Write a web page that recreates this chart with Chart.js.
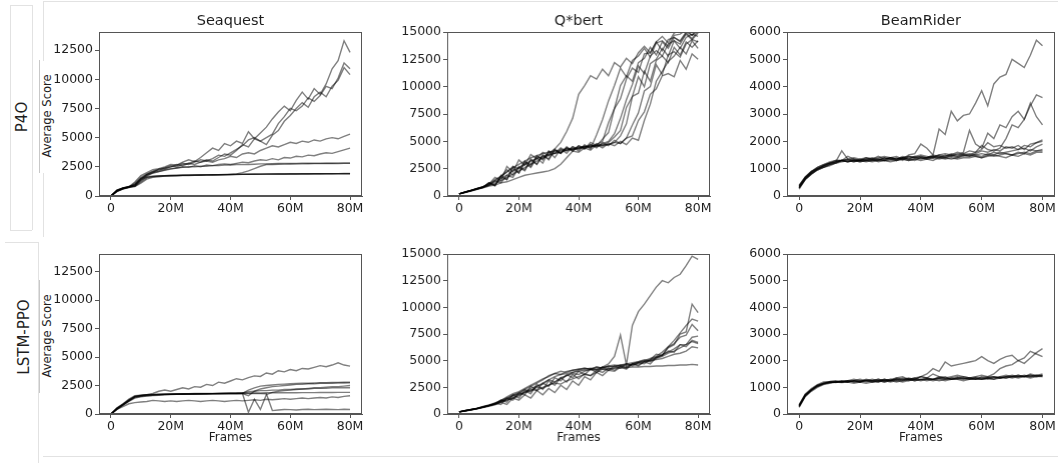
<!DOCTYPE html>
<html><head><meta charset="utf-8">
<script src="https://cdn.jsdelivr.net/npm/chart.js@4.4.1/dist/chart.umd.min.js"></script>
<style>
body{margin:0;width:1058px;height:463px;background:#fff;position:relative;overflow:hidden;font-family:"DejaVu Sans",sans-serif;}
canvas{position:absolute;}
.lbl{position:absolute;color:#1e1e1e;white-space:nowrap;transform:translate(-50%,-50%) rotate(-90deg);font-family:"DejaVu Sans",sans-serif;}
.deco{position:absolute;background:#e2e2e2;}
</style></head><body>
<div class="deco" style="left:10px;top:5px;width:1px;height:225px"></div>
<div class="deco" style="left:32px;top:5px;width:1px;height:225px"></div>
<div class="deco" style="left:10px;top:5px;width:22px;height:1px"></div>
<div class="deco" style="left:10px;top:230px;width:22px;height:1px"></div>
<div class="deco" style="left:43px;top:1px;width:1015px;height:1px"></div>
<div class="deco" style="left:43px;top:1px;width:1px;height:60px"></div>
<div class="deco" style="left:39px;top:60px;width:1px;height:113px;background:#c8c8c8"></div>
<div class="deco" style="left:43px;top:173px;width:1px;height:64px"></div>
<div class="deco" style="left:5px;top:242px;width:33px;height:1px"></div>
<div class="deco" style="left:38px;top:242px;width:1px;height:221px"></div>
<div class="deco" style="left:39px;top:280px;width:1px;height:113px;background:#c8c8c8"></div>
<div class="deco" style="left:43px;top:456px;width:1015px;height:1px"></div>

<div class="lbl" style="left:22px;top:117px;font-size:15px">P4O</div>
<div class="lbl" style="left:24px;top:337px;font-size:15px">LSTM-PPO</div>
<div class="lbl" style="left:47px;top:116px;font-size:11.5px">Average Score</div>
<div class="lbl" style="left:47px;top:336px;font-size:11.5px">Average Score</div>

<canvas id="c1"></canvas><canvas id="c2"></canvas><canvas id="c3"></canvas>
<canvas id="c4"></canvas><canvas id="c5"></canvas><canvas id="c6"></canvas>
<script>
// frames in millions
const frames = [0,2,4,6,8,10,12,14,16,18,20,22,24,26,28,30,32,34,36,38,40,42,44,46,48,50,52,54,56,58,60,62,64,66,68,70,72,74,76,78,80];
const xTickValues = [0,20,40,60,80];
const gameTitles = ['Seaquest','Q*bert','BeamRider'];
const seaquestTicks = [0,2500,5000,7500,10000,12500];
const qbertTicks = [0,2500,5000,7500,10000,12500,15000];
const beamTicks = [0,1000,2000,3000,4000,5000,6000];

const seaquestP4O = [
[0,450,650,780,1200,1750,2000,2250,2350,2500,2700,2650,2900,3100,2950,3300,3700,4100,3900,4500,4300,4700,4500,5500,4900,5400,5900,6600,7200,7700,7300,8200,8900,8300,9200,8700,9600,10900,11600,13300,12300],
[0,480,680,800,1000,1500,1850,2100,2200,2400,2500,2700,2600,2800,3000,2900,3100,3000,3300,3600,3500,3900,4400,4200,4900,4700,5000,5300,6200,6800,7500,7300,7700,8400,8100,8600,9400,9200,10100,11400,10900],
[0,500,700,820,900,1400,1800,2000,2300,2300,2500,2600,2800,2700,2900,3100,3000,3200,3500,3400,3700,4000,4300,4800,5000,4700,4400,5200,5600,6400,6900,7500,8000,7600,8500,8900,8500,9400,9900,11000,10400],
[0,450,650,750,1100,1600,1900,2100,2300,2400,2600,2500,2700,2800,2700,2900,3000,2900,3100,3200,3400,3300,3600,3700,3600,3900,4100,4300,4200,4400,4600,4500,4700,4600,4800,4700,4900,5000,4900,5100,5300],
[0,420,620,760,850,1300,1700,1950,2100,2200,2300,2400,2500,2450,2600,2500,2650,2600,2700,2750,2700,2800,2900,2850,3000,3100,3050,3200,3100,3300,3250,3400,3350,3500,3450,3600,3700,3650,3800,3950,4100],
[0,460,680,780,950,1450,1800,2000,2100,2250,2350,2400,2450,2500,2500,2550,2550,2600,2600,2650,2650,2700,2700,2700,2720,2750,2750,2760,2780,2780,2790,2790,2800,2800,2800,2800,2810,2810,2820,2820,2820],
[0,400,600,720,800,1100,1450,1600,1650,1700,1720,1740,1750,1760,1770,1780,1790,1800,1800,1810,1850,1900,2000,2150,2350,2550,2700,2700,2720,2730,2740,2750,2750,2760,2770,2770,2780,2790,2790,2800,2800],
[0,500,700,800,820,1200,1550,1650,1700,1720,1740,1760,1770,1780,1790,1800,1810,1810,1820,1830,1830,1840,1850,1850,1860,1860,1870,1870,1880,1880,1880,1890,1890,1890,1900,1900,1900,1910,1910,1910,1910],
[0,430,640,740,880,1350,1600,1680,1710,1730,1750,1760,1780,1790,1800,1800,1810,1820,1830,1830,1840,1850,1850,1860,1860,1870,1870,1880,1880,1890,1890,1890,1900,1900,1900,1910,1910,1910,1920,1920,1920],
[0,380,620,760,1000,1500,1650,1700,1720,1740,1760,1770,1780,1790,1800,1810,1820,1820,1830,1840,1840,1850,1860,1860,1870,1870,1880,1880,1890,1890,1900,1900,1900,1910,1910,1910,1920,1920,1920,1930,1930]
];

const qbertP4O = [
[200,380,520,700,850,1100,1500,1800,2200,2700,2500,3100,2900,3600,3400,3900,4300,4900,5900,7100,9300,10100,11000,10700,11600,11000,12200,11800,12600,12100,13100,13700,13100,14100,14600,14000,14900,15200,15100,15300,15200],
[200,350,500,650,800,1200,900,1900,1500,2700,2100,3000,2600,3500,3000,4100,3500,4300,3900,4500,4100,4700,4300,5600,7000,8700,10100,11700,10900,12400,12800,13500,12700,14000,14200,13700,14700,14800,15200,14700,15300],
[200,360,520,680,850,1000,1300,1600,1900,2300,2600,2900,3200,3400,3600,3800,3900,4100,4200,4300,4400,4500,4500,4700,5000,6700,8000,10100,11000,10500,12200,12600,13600,12900,14100,13500,14500,14100,14900,14400,15100],
[200,340,480,640,820,1000,1400,1200,1900,1700,2600,2300,3300,2900,3700,3400,4200,3900,4400,4100,4500,4300,4700,4500,4800,5000,5700,7100,8800,10200,11900,11200,12800,13300,12800,13900,14200,13900,14800,14300,14900],
[200,370,510,660,780,950,1150,1400,1700,2000,2300,2600,2900,3200,3500,3700,3900,4000,4200,4300,4300,4500,4500,4600,4600,4700,4900,5500,6600,9100,9400,11400,10500,12400,12800,12200,13600,12900,14100,13600,14200],
[200,330,490,620,790,1050,1400,1800,2200,2600,2900,3200,3500,3700,3900,4000,4100,4200,4300,4300,4400,4500,4600,4600,4700,4700,4900,4800,5300,6500,7600,9600,10000,12000,11100,12900,13200,12700,13900,14300,14100],
[200,360,500,670,810,1200,1000,1800,2400,1900,2700,2400,3400,2900,3800,3300,4200,3900,4500,4100,4600,4400,4700,4400,4900,4600,5100,4800,5300,5500,6900,7700,9300,9800,11000,11200,10900,12400,11600,13000,12500],
[200,320,460,600,740,900,1000,1200,1300,1500,1700,1900,2000,2100,2200,2300,2500,2900,3500,4100,4000,4400,4200,4700,4400,4800,4600,5000,4700,5300,5100,6900,8400,10500,11400,12300,12800,13600,13000,14200,13500],
[200,350,500,700,830,1100,1700,1400,2700,2200,3300,2800,3800,3400,4000,3700,4300,3900,4400,4200,4600,4300,4900,4600,5200,5800,8000,8900,10700,11700,11300,13000,13100,14100,13300,14300,14500,14200,15000,14700,15200],
[200,340,520,660,800,1200,1000,1700,1500,2500,2100,3200,2700,3700,3300,4100,3900,4400,4100,4500,4300,4600,4400,4800,4600,4900,5400,6000,8100,9100,10900,10000,12100,12500,13500,12800,14200,13500,14500,14800,14600]
];

const beamP4O = [
[300,600,800,950,1050,1150,1250,1300,1450,1350,1300,1400,1350,1450,1350,1400,1450,1350,1500,1550,1900,1750,1500,2450,2250,3100,2750,2950,3000,3400,3850,3300,4100,4350,4450,5000,4850,4700,5150,5700,5500],
[350,650,850,1000,1050,1100,1200,1250,1300,1250,1350,1300,1300,1350,1400,1350,1300,1400,1350,1450,1400,1400,1450,1500,1450,1550,1500,1600,2400,1900,1750,2300,2100,2600,2500,2900,3100,2800,3300,3700,3600],
[300,620,820,980,1100,1150,1200,1300,1250,1300,1300,1350,1300,1300,1350,1400,1350,1400,1350,1400,1450,1400,1500,1450,1400,1500,1450,1550,1500,1600,1850,1700,1650,1750,2100,2600,2500,2800,3400,2900,2600],
[400,700,900,1000,1100,1200,1250,1300,1350,1300,1250,1300,1350,1300,1400,1350,1400,1300,1450,1400,1350,1400,1450,1400,1500,1450,1550,1500,1450,1550,1650,1600,1700,1650,1800,1750,1850,1700,1900,1950,2000],
[350,680,880,1050,1150,1200,1250,1300,1300,1250,1300,1250,1300,1350,1300,1300,1350,1400,1350,1300,1400,1350,1400,1350,1400,1450,1400,1500,1450,1500,1550,1500,1600,1550,1600,1650,1700,1750,1650,1800,1900],
[250,600,800,950,1050,1150,1200,1300,1250,1300,1300,1300,1250,1300,1300,1250,1300,1350,1300,1350,1300,1350,1300,1400,1350,1400,1350,1400,1400,1450,1400,1450,1500,1450,1400,1500,1450,1550,1500,1600,1600],
[300,650,870,1000,1100,1200,1300,1300,1350,1400,1350,1400,1350,1400,1450,1400,1350,1400,1450,1400,1450,1400,1450,1400,1450,1500,1450,1500,1550,1500,1450,1550,1500,1600,1550,1500,1600,1550,1700,1650,1700],
[320,640,840,970,1100,1200,1250,1650,1350,1300,1250,1300,1350,1250,1300,1350,1300,1350,1300,1350,1400,1350,1400,1450,1400,1350,1400,1450,1500,1450,1400,1500,1450,1500,1550,1500,1550,1600,1550,1650,1650],
[380,700,900,1050,1150,1250,1300,1300,1250,1350,1300,1350,1400,1350,1300,1400,1350,1450,1400,1450,1500,1450,1400,1500,1550,1500,1600,1550,1650,1600,1700,1950,1800,1850,1750,1800,1700,1850,1800,1950,2050]
];

const seaquestLSTM = [
[0,500,800,1200,1500,1600,1700,1800,2000,2100,2000,2150,2300,2200,2400,2350,2600,2500,2800,2700,2900,3100,3000,3200,3350,3300,3600,3500,3800,3700,3900,3800,4000,3950,4100,4250,4150,4300,4500,4300,4200],
[0,550,900,1300,1600,1650,1700,1720,1740,1750,1760,1770,1780,1790,1800,1800,1810,1810,1820,1820,1830,1830,1840,1840,1850,1850,1860,1860,1860,1870,1870,1870,1880,1880,1880,1890,1890,1890,1900,1900,1900],
[0,450,850,1250,1550,1650,1680,1700,1720,1730,1740,1750,1760,1770,1770,1780,1780,1790,1790,1800,1800,1800,1810,2100,2300,2450,2500,2550,2600,2620,2650,2680,2700,2700,2720,2740,2750,2760,2780,2790,2800],
[0,400,800,1150,1500,1600,1680,1700,1710,1720,1740,1750,1760,1760,1770,1780,1780,1790,1790,1800,1800,1810,1800,150,1300,400,1700,1900,2000,2050,2100,2150,2200,2250,2300,2300,2350,2400,2400,2450,2500],
[0,500,850,1200,1550,1600,1650,1680,1700,1720,1730,1740,1750,1760,1760,1770,1780,1780,1790,1790,1800,1800,1800,1790,1800,1790,1780,300,350,400,380,350,400,420,380,400,420,400,380,420,400],
[0,400,650,900,1000,1050,1100,1200,1150,1100,1150,1100,1150,1200,1150,1100,1150,1200,1150,1100,1150,1200,1150,1200,1250,1200,1300,1250,1300,1350,1300,1350,1400,1350,1400,1450,1400,1500,1450,1550,1600],
[0,480,820,1150,1450,1550,1600,1650,1680,1700,1720,1730,1740,1750,1760,1770,1780,1790,1800,1800,1810,1820,1850,1950,2000,2050,2050,2100,2100,2150,2150,2200,2200,2200,2250,2250,2250,2300,2300,2300,2300],
[0,420,760,1100,1400,1500,1580,1620,1650,1680,1700,1720,1730,1740,1750,1760,1770,1780,1780,1790,1800,1800,1800,1600,2000,2200,2300,2400,2450,2500,2550,2600,2600,2650,2650,2700,2700,2700,2720,2720,2750]
];

const qbertLSTM = [
[200,320,420,520,680,820,1000,1300,1500,1800,1900,2300,2100,2600,2800,3200,3000,3400,3600,3800,3700,4000,4200,4100,4400,4700,5400,7400,4600,8300,9600,10300,11100,11900,12500,12300,12800,13100,13900,14800,14500],
[200,300,400,500,650,780,950,1300,1100,1800,1500,2200,1900,2800,2300,3100,2700,3400,3000,3700,3300,3800,3600,4100,3900,4300,4100,4500,4300,4700,4600,4900,4700,5300,5500,6200,6500,7500,7700,10300,9500],
[200,310,410,540,660,800,900,1200,1300,1500,1800,2000,2300,2200,2500,2700,2900,2800,3100,3300,3500,3700,3600,3900,4200,4100,4300,4500,4400,4700,4900,5000,5200,5400,5800,6300,6900,7600,8300,8900,8700],
[200,290,390,500,620,760,1000,900,1500,1300,2000,1800,2600,2200,2900,2600,3400,3100,3700,3400,4000,3700,4200,3900,4400,4100,4500,4300,4700,4500,4800,4700,5100,5300,5500,5900,5800,6500,6500,7200,7300],
[200,330,430,530,700,850,1050,1250,1600,1900,2100,2400,2700,3000,3300,3500,3800,3700,4000,4100,4200,4300,4200,4400,4300,4500,4400,4600,4700,4600,4800,4900,5000,5100,5200,5400,5600,5700,5900,6300,6200],
[200,310,420,520,660,800,980,1200,1450,1750,2000,2300,2600,2900,3200,3600,3800,4000,3900,4100,4200,4300,4200,4400,4300,4500,4600,4500,4700,4800,4900,5100,5000,5300,5600,5800,6100,6500,6300,6900,6700],
[200,300,400,510,640,780,940,1150,1400,1650,1850,2100,2400,2600,2900,3200,3500,3700,3800,3900,4000,4100,4150,4200,4200,4250,4300,4300,4350,4400,4400,4450,4450,4500,4500,4550,4550,4600,4600,4650,4600],
[200,280,380,480,600,720,850,1100,900,1500,1300,1800,1500,2200,1800,2400,2000,2700,2300,3100,2700,3500,3200,3900,3600,4100,4000,4400,4200,4700,4500,4900,5100,5600,5500,6300,6600,7200,7400,8400,7800],
[200,300,410,520,650,790,930,1100,1300,1500,1700,2000,2200,2500,2400,2700,3000,3300,3600,3900,4100,4200,4300,4200,4400,4400,4500,4600,4500,4700,4800,5000,4900,5200,5400,5700,5900,6200,6500,6800,6600]
];

const beamLSTM = [
[280,680,880,1050,1150,1200,1180,1220,1200,1250,1300,1250,1200,1250,1300,1250,1300,1350,1300,1350,1400,1500,1700,1600,1950,1800,1850,1900,1950,2000,2150,2000,1900,2050,2150,2200,2000,2100,2350,2250,2150],
[320,720,900,1080,1150,1180,1200,1220,1200,1250,1200,1300,1250,1300,1250,1300,1350,1300,1350,1300,1400,1350,1500,1400,1350,1400,1450,1400,1350,1400,1450,1400,1500,1700,1800,1850,2000,1900,2100,2300,2450],
[300,700,920,1050,1150,1180,1200,1200,1250,1200,1200,1250,1200,1250,1200,1250,1300,1250,1300,1250,1300,1300,1250,1300,1250,1300,1300,1350,1300,1300,1350,1300,1350,1400,1350,1400,1350,1400,1450,1400,1450],
[250,650,850,1000,1100,1150,1200,1180,1200,1150,1200,1150,1200,1200,1250,1200,1250,1200,1250,1300,1250,1300,1300,1250,1300,1350,1300,1250,1300,1350,1300,1350,1300,1350,1400,1350,1400,1400,1350,1400,1400],
[350,750,950,1100,1200,1220,1250,1200,1250,1300,1250,1200,1250,1300,1250,1300,1250,1300,1250,1300,1400,1350,1300,1350,1300,1350,1400,1350,1300,1350,1300,1350,1400,1350,1400,1450,1400,1450,1400,1450,1500],
[300,680,900,1050,1120,1180,1200,1250,1200,1250,1200,1250,1250,1200,1300,1250,1200,1250,1300,1350,1300,1250,1300,1350,1400,1300,1350,1300,1350,1300,1300,1350,1400,1350,1350,1400,1450,1400,1400,1450,1400],
[280,700,880,1030,1130,1190,1200,1230,1250,1200,1250,1250,1300,1250,1200,1250,1350,1400,1300,1250,1300,1350,1300,1400,1350,1300,1350,1400,1350,1300,1400,1350,1300,1400,1450,1400,1450,1400,1500,1450,1450],
[330,720,920,1070,1160,1210,1220,1200,1230,1250,1220,1280,1250,1230,1280,1250,1300,1280,1320,1300,1280,1320,1300,1350,1320,1300,1350,1320,1350,1380,1350,1400,1380,1350,1400,1420,1400,1430,1450,1420,1450]
];

const FONT = '"DejaVu Sans", sans-serif';
const TXT = '#1e1e1e';
const AX = '#555555';

const framePlugin = {
  id: 'frameBox',
  afterDraw(c) {
    const a = c.chartArea, ctx = c.ctx;
    ctx.save();
    ctx.strokeStyle = AX; ctx.lineWidth = 1;
    ctx.strokeRect(Math.round(a.left) + 0.5, Math.round(a.top) + 0.5,
                   Math.round(a.right - a.left) - 1, Math.round(a.bottom - a.top) - 1);
    ctx.restore();
  }
};

function makeChart(id, box, series, yMax, yTicks, title, showFrames) {
  const WY = 60, topPad = title ? 32 : 12, HX = showFrames ? 31 : 22;
  const cv = document.getElementById(id);
  const w = (box.R - box.L) + WY + box.padR;
  const h = (box.B - box.T) + topPad + HX;
  cv.width = w; cv.height = h;
  cv.style.left = (box.L - WY) + 'px';
  cv.style.top = (box.T - topPad) + 'px';
  cv.style.width = w + 'px'; cv.style.height = h + 'px';
  const datasets = series.map(s => {
    if (s.length !== frames.length) throw new Error('bad length in ' + id);
    return {
      data: s.map((v, i) => ({x: frames[i], y: v})),
      borderColor: 'rgba(0,0,0,0.5)', borderWidth: 1.4,
      pointRadius: 0, tension: 0, fill: false
    };
  });
  return new Chart(cv, {
    type: 'line',
    data: {datasets},
    plugins: [framePlugin],
    options: {
      responsive: false, animation: false, devicePixelRatio: 1,
      layout: {padding: {left: 0, right: box.padR, top: title ? 0 : topPad, bottom: 0}},
      plugins: {
        legend: {display: false}, tooltip: {enabled: false},
        title: title ? {display: true, text: title, fullSize: false, color: TXT,
          font: {family: FONT, size: 14.5, weight: 'normal', lineHeight: 1.2},
          padding: {top: 13, bottom: topPad - 13 - 17.4}} : {display: false}
      },
      scales: {
        x: {
          type: 'linear', min: -4, max: 84,
          afterBuildTicks: s => { s.ticks = xTickValues.map(v => ({value: v})); },
          afterFit: s => { s.height = HX; },
          ticks: {callback: v => v === 0 ? '0' : v + 'M', color: TXT, padding: 2,
                  font: {family: FONT, size: 12.5, lineHeight: 1}, maxRotation: 0, autoSkip: false},
          grid: {drawOnChartArea: false, drawTicks: true, tickLength: 4, color: AX},
          border: {display: true, color: AX},
          title: {display: showFrames, text: 'Frames', color: TXT, padding: 0,
                  font: {family: FONT, size: 12, lineHeight: 1.2}}
        },
        y: {
          min: 0, max: yMax,
          afterBuildTicks: s => { s.ticks = yTicks.map(v => ({value: v})); },
          afterFit: s => { s.width = WY; },
          ticks: {color: TXT, padding: 2, font: {family: FONT, size: 12.5, lineHeight: 1.2},
                  callback: v => String(v)},
          grid: {drawOnChartArea: false, drawTicks: true, tickLength: 4, color: AX},
          border: {display: true, color: AX}
        }
      }
    }
  });
}

const colA = {L: 99, R: 362, padR: 8};
const colB = {L: 447, R: 709.5, padR: 8};
const colC = {L: 787, R: 1055, padR: 3};
const rowTop = {T: 32, B: 196};
const rowBot = {T: 254, B: 414};

makeChart('c1', {...colA, ...rowTop}, seaquestP4O, 14050, seaquestTicks, gameTitles[0], false);
makeChart('c2', {...colB, ...rowTop}, qbertP4O, 15000, qbertTicks, gameTitles[1], false);
makeChart('c3', {...colC, ...rowTop}, beamP4O, 6000, beamTicks, gameTitles[2], false);
makeChart('c4', {...colA, ...rowBot}, seaquestLSTM, 14050, seaquestTicks, null, true);
makeChart('c5', {...colB, ...rowBot}, qbertLSTM, 15000, qbertTicks, null, true);
makeChart('c6', {...colC, ...rowBot}, beamLSTM, 6000, beamTicks, null, true);
</script>
</body></html>
